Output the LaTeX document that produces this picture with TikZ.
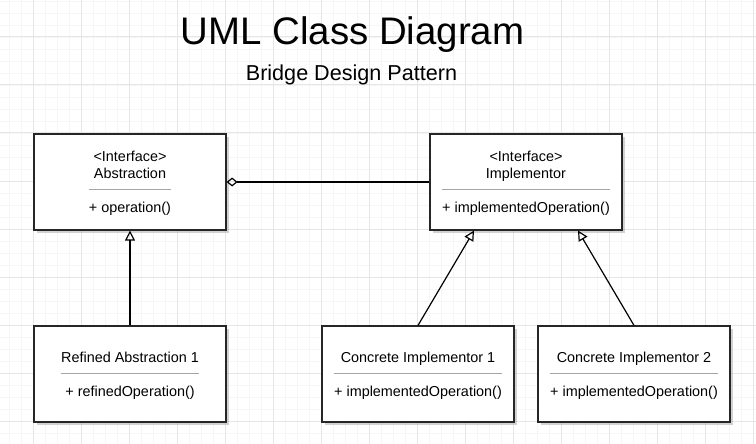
\documentclass[tikz,border=0pt]{standalone}
\usepackage{fontspec}
\setmainfont{Liberation Sans}
\usetikzlibrary{arrows.meta,shadows}
\definecolor{minorgrid}{HTML}{F6F6F6}
\definecolor{majorgrid}{HTML}{E6E6E6}
\definecolor{ruleclr}{HTML}{A6A6A6}
\tikzset{
    classbox/.style={draw=black!85, line width=1.2pt, fill=white, minimum width=192pt,
        minimum height=96pt, inner sep=0pt,
        drop shadow={shadow xshift=3pt, shadow yshift=-3pt, fill=black!35}},
    boxtext/.style={anchor=base, inner sep=0pt, font=\fontsize{14.4}{17}\selectfont},
    sepline/.style={draw=ruleclr, line width=1.2pt},
    aggr/.style={line width=1.2pt, {Diamond[open,length=11pt,width=9pt]}-},
    inherit/.style={line width=1.2pt, -{Triangle[open,length=10pt,width=10pt]}}
}
\begin{document}
\begin{tikzpicture}[x=1pt,y=-1pt]
        \useasboundingbox[fill=white] (0,0) rectangle (756,444);
        %% Grid
        \foreach \gx in {9,21,...,753} \draw[minorgrid, line width=0.8pt] (\gx,0) -- (\gx,444);
        \foreach \gy in {1,13,...,444} \draw[minorgrid, line width=0.8pt] (0,\gy) -- (756,\gy);
        \foreach \gx in {33,81,...,753} \draw[majorgrid, line width=1pt] (\gx,0) -- (\gx,444);
        \foreach \gy in {37,85,...,444} \draw[majorgrid, line width=1pt] (0,\gy) -- (756,\gy);
        %% Title
        \node[anchor=base, inner sep=0pt, font=\fontsize{38.4}{44}\selectfont] (title) at (352.5,45) {UML Class Diagram};
        \node[anchor=base, inner sep=0pt, font=\fontsize{21.6}{25}\selectfont] (subtitle) at (351.5,81) {Bridge Design Pattern};
        %% Classes
        \node[classbox] (abs) at (130,182) {};
        \node[classbox] (impl) at (526,182) {};
        \node[classbox] (refabs) at (130,374) {};
        \node[classbox] (conc1) at (418,374) {};
        \node[classbox] (conc2) at (634,374) {};
        %% Abstraction
        \node[boxtext] (absster) at ([yshift=-28pt]abs.north) {<Interface>};
        \node[boxtext] (absname) at ([yshift=-45pt]abs.north) {Abstraction};
        \node[boxtext] (absop) at ([yshift=-79pt]abs.north) {+ operation()};
            \coordinate (absrule) at ([yshift=-56pt]abs.north);
            \draw[sepline] (absop.west |- absrule) -- (absop.east |- absrule);
        %% Implementor
        \node[boxtext] (implster) at ([yshift=-28pt]impl.north) {<Interface>};
        \node[boxtext] (implname) at ([yshift=-45pt]impl.north) {Implementor};
        \node[boxtext] (implop) at ([yshift=-79pt]impl.north) {+ implementedOperation()};
            \coordinate (implrule) at ([yshift=-56pt]impl.north);
            \draw[sepline] (implop.west |- implrule) -- (implop.east |- implrule);
        %% Refined Abstraction
        \node[boxtext] (refname) at ([yshift=-37pt]refabs.north) {Refined Abstraction 1};
        \node[boxtext] (refop) at ([yshift=-71pt]refabs.north) {+ refinedOperation()};
            \coordinate (refrule) at ([yshift=-48pt]refabs.north);
            \draw[sepline] (refname.west |- refrule) -- (refname.east |- refrule);
        %% Concrete Implementors
        \node[boxtext] (c1name) at ([yshift=-37pt]conc1.north) {Concrete Implementor 1};
        \node[boxtext] (c1op) at ([yshift=-71pt]conc1.north) {+ implementedOperation()};
            \coordinate (c1rule) at ([yshift=-48pt]conc1.north);
            \draw[sepline] (c1op.west |- c1rule) -- (c1op.east |- c1rule);
        \node[boxtext] (c2name) at ([yshift=-37pt]conc2.north) {Concrete Implementor 2};
        \node[boxtext] (c2op) at ([yshift=-71pt]conc2.north) {+ implementedOperation()};
            \coordinate (c2rule) at ([yshift=-48pt]conc2.north);
            \draw[sepline] (c2op.west |- c2rule) -- (c2op.east |- c2rule);
        %% Relations
        \draw[aggr] (abs.east) -- (impl.west);
        \draw[inherit] (refabs.north) -- (abs.south);
        \draw[inherit] (conc1.north) -- ([xshift=-52pt]impl.south);
        \draw[inherit] (conc2.north) -- ([xshift=52pt]impl.south);
    \end{tikzpicture}
\end{document}
